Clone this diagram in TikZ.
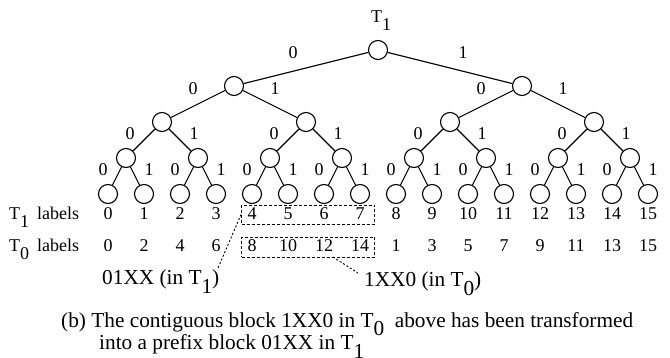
\documentclass[tikz,border=0pt]{standalone}
\usepackage{fontspec}
\setmainfont{Liberation Serif}
\usepackage{tikz}
\usetikzlibrary{positioning,calc}

\newcommand{\Tsub}[1]{T\raisebox{-0.4em}{#1}}

\tikzset{
    bit/.style={circle, draw, line width=1.1pt, minimum size=19pt, inner sep=0pt},
    edge/.style={line width=1.1pt},
    elabel/.style={inner sep=0pt},
    txt/.style={anchor=base west, inner sep=0pt},
    big/.style={font=\fontsize{21.3}{24}\selectfont},
    dbox/.style={draw, line width=0.9pt, dash pattern=on 3pt off 2pt, inner sep=0pt},
    note/.style={line width=0.9pt, dash pattern=on 2pt off 2pt}
}

\begin{document}
\begin{tikzpicture}[x=1pt, y=-1pt, font=\fontsize{18}{21}\selectfont]
    \useasboundingbox (0,0) rectangle (670,358);

    % Title
    \node[txt] (title) at (371,23) {\Tsub{1}};

    % Tree nodes
    \foreach \l in {0,...,4} {
        \pgfmathtruncatemacro{\n}{2^\l-1}
        \foreach \i in {0,...,\n} {
            \pgfmathsetmacro{\xx}{108+36*(\i*2^(4-\l)+(2^(4-\l)-1)/2)}
            \node[bit] (n\l-\i) at (\xx, 50+36*\l) {};
        }
    }

    % Edges with bit labels
    \foreach \l/\dx/\dy in {1/13/15, 2/5/15, 3/14/6, 4/14/6} {
        \pgfmathtruncatemacro{\n}{2^\l-1}
        \pgfmathtruncatemacro{\pl}{\l-1}
        \foreach \i in {0,...,\n} {
            \pgfmathtruncatemacro{\p}{floor(\i/2)}
            \pgfmathtruncatemacro{\b}{mod(\i,2)}
            \pgfmathtruncatemacro{\s}{2*\b-1}
            \draw[edge] (n\pl-\p) -- (n\l-\i)
                node[midway, elabel, shift={(\s*\dx,-\dy)}] {\b};
        }
    }

    % Leaf labels
    \node[txt] (t1lab) at (9,220) {\Tsub{1}\hspace{8pt}labels};
    \node[txt] (t0lab) at (9,252) {\Tsub{0}\hspace{8pt}labels};
    \foreach \i in {0,...,15} {
        \pgfmathtruncatemacro{\v}{\i<8 ? 2*\i : 2*(\i-8)+1}
        \node[anchor=base, inner sep=0pt] (l1-\i) at (108+36*\i, 220) {\i};
        \node[anchor=base, inner sep=0pt] (l0-\i) at (108+36*\i, 252) {\v};
    }

    % Blocks
    \node[dbox, minimum width=133pt, minimum height=19pt] (t1box) at (308,214.5) {};
    \node[dbox, minimum width=133pt, minimum height=20pt] (t0box) at (308,247) {};

    \node[txt, big] (t1note) at (102,285) {01XX (in \Tsub{1})};
    \node[txt, big] (t0note) at (364,287) {1XX0 (in \Tsub{0})};
    \coordinate (t1tip) at (218,268);
    \coordinate (t0tail) at (333,257);
    \coordinate (t0tip) at (358,273);
    \draw[note] (t1box.west) -- (t1tip);
    \draw[note] (t0tail) -- (t0tip);

    % Caption
    \node[txt, big] (cap1) at (61,327)
        {(b) The contiguous block 1XX0 in \Tsub{0}\ \ above has been transformed};
    \node[txt, big] (cap2) at (99,350)
        {into a prefix block 01XX in \Tsub{1}};
\end{tikzpicture}
\end{document}
